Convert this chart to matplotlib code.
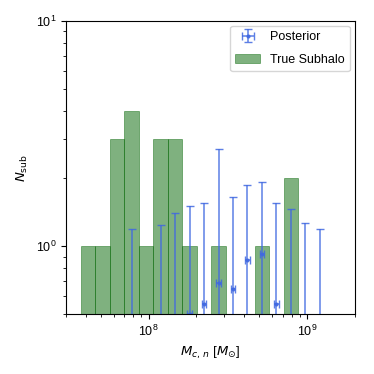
import numpy as np
import matplotlib
matplotlib.use('Agg')
import matplotlib.pyplot as plt

plt.rcParams['font.family'] = ['Liberation Sans', 'DejaVu Sans']

# log-spaced mass bins (shared by histogram and posterior)
bin_edges = np.array([3.736e7, 4.610e7, 5.689e7, 7.021e7, 8.665e7, 1.0698e8,
                      1.3201e8, 1.6294e8, 2.0110e8, 2.4818e8, 3.0630e8, 3.7803e8,
                      4.6656e8, 5.7583e8, 7.1068e8, 8.7714e8, 1.0826e9, 1.3361e9])

# true subhalo counts (first 15 bins)
true_counts = [1, 1, 3, 4, 1, 3, 3, 1, 0, 1, 0, 0, 1, 0, 2]

# posterior median and upper value per bin (nan = not shown)
post_med = [np.nan, np.nan, np.nan, 0.0, np.nan, 0.0, 0.0, 0.5, 0.556, 0.687,
            0.648, 0.873, 0.921, 0.556, 0.0, 0.0, 0.0]
post_hi = [np.nan, np.nan, np.nan, 1.19, np.nan, 1.24, 1.41, 1.51, 1.56, 2.69,
           1.65, 1.87, 1.92, 1.56, 1.47, 1.27, 1.19]

centers = np.sqrt(bin_edges[:-1] * bin_edges[1:])
med = np.array(post_med)
hi = np.array(post_hi)
keep = ~np.isnan(med)

fig = plt.figure(figsize=(3.74, 3.74), dpi=100)
ax = fig.add_axes([0.176, 0.160, 0.773, 0.784])

widths = np.diff(bin_edges)[:len(true_counts)]
bars = ax.bar(bin_edges[:len(true_counts)], true_counts, width=widths, align='edge',
              color='darkgreen', edgecolor=(0.0, 0.39, 0.0, 0.35), linewidth=0.6,
              alpha=0.5, label='True Subhalo')

xc = centers[keep]
eb = ax.errorbar(xc, med[keep], yerr=[med[keep], hi[keep] - med[keep]],
                 xerr=[xc * 0.035, xc * 0.035], fmt='.', color='royalblue',
                 ms=4, elinewidth=1.1, capsize=3, alpha=0.85, label='Posterior')

ax.set_xscale('log')
ax.set_yscale('log')
ax.set_xlim(3e7, 2e9)
ax.set_ylim(0.5, 10)
ax.set_xlabel(r'$M_{c,\,n}$ [$M_{\odot}$]', fontsize=9.5)
ax.set_ylabel(r'$N_{\rm sub}$', fontsize=9.5)
ax.tick_params(labelsize=9)
ax.yaxis.set_minor_formatter(matplotlib.ticker.NullFormatter())

ax.legend([eb, bars], ['Posterior', 'True Subhalo'], loc='upper right',
          fontsize=9, borderpad=0.4, labelspacing=0.9, borderaxespad=0.4)

fig.savefig('out.png', dpi=100)
